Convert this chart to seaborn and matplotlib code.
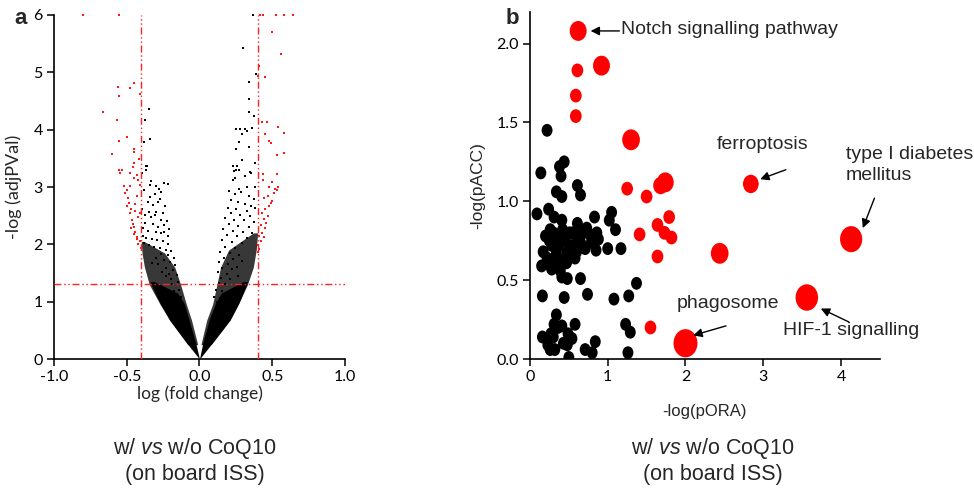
import numpy as np
import seaborn as sns
import matplotlib

matplotlib.use("Agg")
import matplotlib.pyplot as plt
from matplotlib.path import Path
from matplotlib.transforms import Affine2D

# ---------------- panel a: volcano plot ----------------
# dense (solid) core of the volcano: left / right arm envelopes
core_y = [0.0, 0.27, 0.68, 0.97, 1.15, 1.35]
core_left_outer = [0.0, -0.085, -0.205, -0.27, -0.305, -0.34]
core_left_inner = [0.0, -0.025, -0.072, -0.105, -0.15, -0.31]
core_right_outer = [0.0, 0.085, 0.21, 0.27, 0.30, 0.33]
core_right_inner = [0.0, 0.022, 0.066, 0.11, 0.15, 0.30]
# crowded zone around / above the core
dense_left_y = [0.25, 0.68, 0.95, 1.3, 1.6, 1.85, 2.05]
dense_left_outer = [-0.08, -0.205, -0.27, -0.345, -0.378, -0.395, -0.40]
dense_left_inner = [-0.012, -0.055, -0.09, -0.13, -0.17, -0.24, -0.38]
dense_right_y = [0.25, 0.68, 0.95, 1.3, 1.6, 1.9, 2.2]
dense_right_outer = [0.08, 0.21, 0.265, 0.33, 0.37, 0.39, 0.40]
dense_right_inner = [0.01, 0.05, 0.09, 0.12, 0.145, 0.20, 0.37]

# non-significant genes scattered above the core
black_left = [
    (-0.35, 4.36), (-0.373, 4.17), (-0.339, 3.84), (-0.384, 3.78), (-0.366, 3.37),
    (-0.37, 3.30), (-0.392, 3.24), (-0.362, 3.37), (-0.33, 3.11), (-0.297, 3.02),
    (-0.247, 3.07), (-0.281, 2.97), (-0.262, 2.91), (-0.218, 3.05), (-0.343, 3.04),
    (-0.383, 2.94), (-0.338, 2.83), (-0.305, 2.87), (-0.268, 2.79), (-0.357, 2.74),
    (-0.318, 2.69), (-0.284, 2.73), (-0.236, 2.67), (-0.392, 2.61), (-0.347, 2.57),
    (-0.296, 2.56), (-0.254, 2.55), (-0.376, 2.51), (-0.331, 2.47), (-0.309, 2.52),
    (-0.262, 2.43), (-0.224, 2.41), (-0.371, 2.38), (-0.322, 2.35), (-0.285, 2.31),
    (-0.243, 2.33), (-0.207, 2.26), (-0.389, 2.29), (-0.351, 2.24), (-0.302, 2.21),
    (-0.263, 2.19), (-0.219, 2.14), (-0.241, 2.22), (-0.388, 2.14), (-0.366, 2.11),
    (-0.327, 2.09), (-0.293, 2.07), (-0.252, 2.05), (-0.213, 2.01), (-0.382, 2.03),
    (-0.346, 1.99), (-0.314, 1.95), (-0.272, 1.93), (-0.233, 1.91), (-0.196, 1.89),
    (-0.178, 1.77), (-0.219, 1.81), (-0.262, 1.83), (-0.205, 1.69), (-0.168, 1.64),
    (-0.231, 1.59), (-0.185, 1.55), (-0.157, 1.47), (-0.212, 1.48), (-0.198, 1.39),
    (-0.146, 1.34), (-0.187, 1.31), (-0.142, 1.21), (-0.172, 1.19), (-0.128, 1.09),
    (-0.151, 1.01), (-0.247, 1.73), (-0.283, 1.65), (-0.258, 1.52), (-0.229, 1.44),
    (-0.301, 1.76), (-0.327, 1.68),
]
black_right = [
    (0.365, 6.0), (0.37, 6.0), (0.30, 5.42), (0.39, 4.97), (0.34, 4.83), (0.34, 4.53),
    (0.34, 4.31), (0.376, 4.24), (0.25, 4.01), (0.28, 4.02), (0.31, 4.01), (0.36, 4.03),
    (0.33, 3.97), (0.29, 3.93), (0.275, 3.78), (0.34, 3.70), (0.25, 3.67), (0.29, 3.47),
    (0.38, 3.42), (0.23, 3.37), (0.26, 3.36), (0.25, 3.30), (0.24, 3.28), (0.27, 3.30),
    (0.35, 3.27), (0.355, 3.24), (0.31, 3.20), (0.23, 3.12), (0.245, 3.15), (0.33, 3.00),
    (0.38, 3.00), (0.27, 2.97), (0.203, 2.93), (0.247, 2.87), (0.286, 2.91), (0.338, 2.85),
    (0.372, 2.79), (0.218, 2.77), (0.263, 2.74), (0.314, 2.71), (0.357, 2.66), (0.193, 2.64),
    (0.252, 2.62), (0.327, 2.59), (0.384, 2.63), (0.214, 2.54), (0.281, 2.51), (0.348, 2.49),
    (0.174, 2.46), (0.238, 2.42), (0.306, 2.43), (0.376, 2.39), (0.203, 2.35), (0.268, 2.32),
    (0.338, 2.30), (0.163, 2.27), (0.229, 2.24), (0.297, 2.22), (0.362, 2.19), (0.187, 2.16),
    (0.258, 2.14), (0.326, 2.11), (0.153, 2.07), (0.221, 2.04), (0.289, 2.02), (0.176, 1.96),
    (0.246, 1.94), (0.142, 1.87), (0.209, 1.85), (0.273, 1.82), (0.168, 1.77), (0.232, 1.74),
    (0.134, 1.69), (0.197, 1.66), (0.158, 1.59), (0.224, 1.57), (0.124, 1.51), (0.187, 1.48),
    (0.149, 1.41), (0.213, 1.39), (0.131, 1.32), (0.177, 1.30), (0.113, 1.21), (0.158, 1.19),
    (0.102, 1.09), (0.141, 1.07), (0.118, 0.99), (0.256, 1.61), (0.292, 1.71), (0.262, 1.45),
]
# significant genes (|logFC| > 0.4 and adjP < 0.05)
red_left = [
    (-0.80, 6.0), (-0.55, 6.0), (-0.66, 4.31), (-0.56, 4.74), (-0.476, 4.72), (-0.45, 4.81),
    (-0.55, 4.59), (-0.41, 4.62), (-0.57, 4.17), (-0.50, 3.88), (-0.556, 3.80), (-0.60, 3.58),
    (-0.45, 3.66), (-0.45, 3.61), (-0.45, 3.41), (-0.46, 3.35), (-0.414, 3.48), (-0.555, 3.30),
    (-0.535, 3.30), (-0.545, 3.24), (-0.48, 3.25), (-0.43, 3.21), (-0.45, 3.15), (-0.52, 3.01),
    (-0.42, 3.12), (-0.41, 3.04), (-0.476, 3.01), (-0.51, 2.89), (-0.49, 2.80), (-0.487, 2.72),
    (-0.498, 2.66), (-0.47, 2.62), (-0.476, 2.54), (-0.44, 2.58), (-0.465, 2.43), (-0.42, 2.47),
    (-0.45, 2.31), (-0.46, 2.36), (-0.44, 2.22), (-0.43, 2.13), (-0.45, 2.18), (-0.41, 2.05),
    (-0.42, 2.00), (-0.405, 1.94), (-0.43, 2.09), (-0.47, 2.28), (-0.41, 2.54), (-0.50, 2.95),
    (-0.44, 2.70), (-0.43, 2.85),
]
red_right = [
    (0.417, 6.0), (0.435, 6.0), (0.527, 6.0), (0.58, 6.0), (0.646, 6.0), (0.50, 5.71),
    (0.56, 5.32), (0.41, 5.11), (0.405, 4.93), (0.447, 4.91), (0.433, 4.13), (0.463, 4.13),
    (0.54, 4.05), (0.578, 3.95), (0.447, 3.92), (0.475, 3.81), (0.49, 3.77), (0.536, 3.56),
    (0.58, 3.60), (0.436, 3.23), (0.53, 3.23), (0.50, 3.08), (0.436, 3.12), (0.54, 3.00),
    (0.48, 3.00), (0.53, 2.95), (0.51, 2.90), (0.47, 2.85), (0.44, 2.80), (0.50, 2.75),
    (0.48, 2.66), (0.45, 2.62), (0.43, 2.55), (0.47, 2.50), (0.44, 2.45), (0.46, 2.38),
    (0.42, 2.33), (0.45, 2.28), (0.43, 2.20), (0.41, 2.14), (0.44, 2.12), (0.42, 2.05),
    (0.40, 1.98), (0.41, 1.92), (0.40, 1.87), (0.52, 2.97), (0.49, 2.72),
]
fc_cut = 0.4
p_cut = 1.3

# ---------------- panel b: pathway bubbles ----------------
path_black_x = [0.22, 0.14, 0.44, 0.38, 0.40, 0.61, 0.65, 0.34, 0.41, 0.09, 0.24, 0.41, 0.61,
                0.83, 1.05, 1.02, 1.10, 0.26, 0.34, 0.28, 0.45, 0.51, 0.73, 0.77, 0.86, 0.88,
                0.65, 0.71, 0.60, 0.85, 1.00, 1.17, 0.17, 0.22, 0.34, 0.43, 0.15, 0.28, 0.39,
                0.47, 0.52, 0.41, 0.48, 0.65, 1.37, 0.16, 0.44, 0.74, 1.08, 1.27, 0.34, 0.31,
                0.41, 0.58, 1.23, 1.29, 0.16, 0.30, 0.49, 0.54, 0.43, 0.48, 0.84, 0.26, 0.32,
                0.50, 0.71, 0.80, 1.26, 0.30, 0.38, 0.55, 0.48, 0.33, 0.55, 0.62, 0.58, 0.25,
                0.42, 0.36, 0.20, 0.31, 0.50, 0.68, 0.79, 0.24, 0.38, 0.27, 0.36, 0.23]
path_black_y = [1.45, 1.18, 1.25, 1.22, 1.16, 1.10, 1.04, 1.06, 1.03, 0.92, 0.95, 0.88, 0.86,
                0.90, 0.93, 0.88, 0.82, 0.82, 0.77, 0.72, 0.75, 0.80, 0.83, 0.79, 0.80, 0.76,
                0.74, 0.70, 0.68, 0.69, 0.70, 0.70, 0.68, 0.64, 0.67, 0.63, 0.59, 0.57, 0.56,
                0.61, 0.65, 0.52, 0.51, 0.51, 0.48, 0.40, 0.39, 0.41, 0.38, 0.40, 0.28, 0.22,
                0.21, 0.22, 0.22, 0.17, 0.14, 0.14, 0.16, 0.13, 0.10, 0.09, 0.11, 0.06, 0.06,
                0.01, 0.06, 0.04, 0.04, 0.80, 0.78, 0.72, 0.68, 0.62, 0.80, 0.78, 0.64, 0.75,
                0.82, 0.71, 0.78, 0.90, 0.72, 0.80, 0.74, 0.60, 0.60, 0.16, 0.20, 0.09]
path_red_x = [0.62, 0.61, 0.92, 0.59, 0.59, 1.30, 1.25, 1.50, 1.68, 1.74, 2.84, 1.79, 1.64,
              1.41, 1.73, 1.82, 1.64, 2.44, 4.13, 3.56, 1.55, 2.00]
path_red_y = [2.08, 1.83, 1.86, 1.67, 1.54, 1.39, 1.08, 1.03, 1.10, 1.12, 1.11, 0.90, 0.85,
              0.79, 0.80, 0.77, 0.65, 0.67, 0.76, 0.39, 0.20, 0.10]
path_red_w = [2.1, 1.0, 2.1, 1.0, 1.0, 2.3, 1.0, 1.0, 1.6, 2.1, 1.8, 1.0, 1.0,
              1.0, 1.0, 1.0, 1.0, 2.3, 3.6, 3.7, 1.0, 4.2]
path_black_w = 0.9

notes = [
    # text, text pos, arrow tail, arrow tip, ha
    ("Notch signalling pathway", (1.17, 2.09), (1.15, 2.08), (0.78, 2.08), "left"),
    ("ferroptosis", (2.99, 1.36), (3.29, 1.20), (2.96, 1.14), "center"),
    ("type I diabetes\nmellitus", (4.06, 1.23), (4.43, 1.02), (4.28, 0.83), "left"),
    ("phagosome", (2.54, 0.35), (2.52, 0.21), (2.10, 0.15), "center"),
    ("HIF-1 signalling", (3.25, 0.18), (4.10, 0.235), (3.74, 0.32), "left"),
]

sns.set_style("ticks")
plt.rcParams["font.family"] = ["Lato", "DejaVu Sans"]
plt.rcParams["mathtext.fontset"] = "custom"
plt.rcParams["mathtext.it"] = "Liberation Sans:italic"
plt.rcParams["mathtext.rm"] = "Liberation Sans"

fig = plt.figure(figsize=(9.74, 4.88), dpi=100)
ax1 = fig.add_axes([0.0554, 0.2643, 0.2988, 0.705])
ax2 = fig.add_axes([0.5441, 0.2643, 0.3593, 0.7111])

arial = ["Liberation Sans", "DejaVu Sans"]

# panel a
for yy, outer, inner in [(dense_left_y, dense_left_outer, dense_left_inner),
                         (dense_right_y, dense_right_outer, dense_right_inner)]:
    ax1.fill_betweenx(yy, outer, inner, color="#383838", lw=0, zorder=1.5)
for outer, inner in [(core_left_outer, core_left_inner), (core_right_outer, core_right_inner)]:
    ax1.fill_betweenx(core_y, outer, inner, color="black", lw=0, zorder=2)
for pts, col in [(black_left, "black"), (black_right, "black"),
                 (red_left, "#ff1a1a"), (red_right, "#ff1a1a")]:
    xs, ys = zip(*pts)
    sns.scatterplot(x=list(xs), y=list(ys), ax=ax1, color=col, s=3.5, marker="s",
                    linewidth=0, legend=False, zorder=3, clip_on=False)

dashdot = (0, (5, 2, 1, 2, 1, 2))
ax1.axhline(p_cut, color="#ff2020", lw=1.0, ls=dashdot, zorder=4)
for v in (-fc_cut, fc_cut):
    ax1.axvline(v, color="#ff2020", lw=1.0, ls=dashdot, zorder=4)

ax1.set_xlim(-1.0, 1.0)
ax1.set_ylim(0, 6)
ax1.set_xticks([-1.0, -0.5, 0.0, 0.5, 1.0])
ax1.set_xticklabels(["-1.0", "-0.5", "0.0", "0.5", "1.0"])
ax1.set_yticks(range(7))
ax1.set_xlabel("log (fold change)", fontsize=12.5, labelpad=1)
ax1.set_ylabel("-log (adjPVal)", fontsize=13, labelpad=8)
sns.despine(ax=ax1)

# panel b
ell = Path.unit_circle().transformed(Affine2D().scale(0.85, 1.0))
sns.scatterplot(x=path_black_x, y=path_black_y, ax=ax2, color="black",
                s=np.array([path_black_w] * len(path_black_x)) * 95, marker=ell,
                linewidth=0, legend=False, zorder=3)
sns.scatterplot(x=path_red_x, y=path_red_y, ax=ax2, color="#ff0000",
                s=np.array(path_red_w) * 98, marker=ell,
                linewidth=0, legend=False, zorder=3)
for txt, tpos, tail, tip, ha in notes:
    ax2.text(tpos[0], tpos[1], txt, ha=ha, va="center", fontsize=14,
             family=arial, linespacing=1.3, clip_on=False)
    ax2.annotate("", xy=tip, xytext=tail, annotation_clip=False,
                 arrowprops=dict(arrowstyle="-|>", color="black", lw=1.0,
                                 mutation_scale=13, shrinkA=0, shrinkB=0))

ax2.set_xlim(0, 4.5)
ax2.set_ylim(0, 2.2)
ax2.set_xticks([0, 1, 2, 3, 4])
ax2.set_yticks([0.0, 0.5, 1.0, 1.5, 2.0])
ax2.set_yticklabels(["0.0", "0.5", "1.0", "1.5", "2.0"])
ax2.set_xlabel("-log(pORA)", fontsize=12, family=arial, labelpad=14)
ax2.set_ylabel("-log(pACC)", fontsize=12.5, family=arial, labelpad=8)
sns.despine(ax=ax2)

for ax in (ax1, ax2):
    for sp in ("left", "bottom"):
        ax.spines[sp].set_linewidth(1.2)
        ax.spines[sp].set_color("black")
    ax.tick_params(axis="both", labelsize=11.5, length=5, width=1.1,
                   colors="black", pad=3)

fig.text(0.015, 0.962, "a", fontsize=16, fontweight="bold", family=arial, va="center")
fig.text(0.519, 0.962, "b", fontsize=16, fontweight="bold", family=arial, va="center")

for cx in (0.200, 0.732):
    fig.text(cx, 0.080, r"w/ $\mathit{vs}$ w/o CoQ10", ha="center", va="center",
             fontsize=15.5, family=arial)
    fig.text(cx, 0.028, "(on board ISS)", ha="center", va="center",
             fontsize=15.5, family=arial)

fig.savefig("out.png", dpi=100)
